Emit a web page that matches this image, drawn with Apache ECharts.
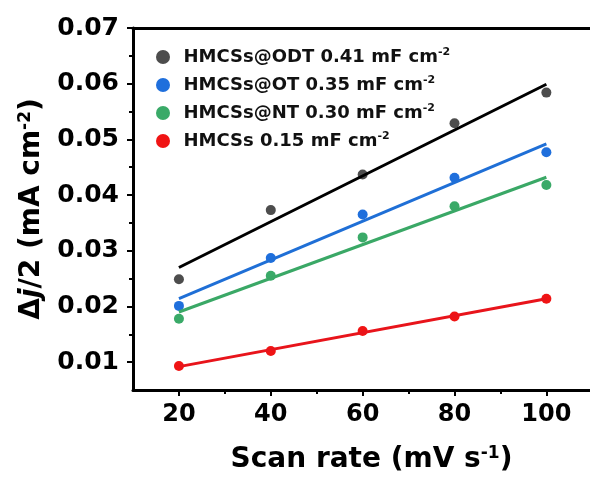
<!DOCTYPE html>
<html>
<head>
<meta charset="utf-8">
<script src="https://cdn.jsdelivr.net/npm/echarts@6/dist/echarts.min.js"></script>
<style>html,body{margin:0;padding:0;background:#fff}#c{width:590px;height:479px}</style>
</head>
<body>
<div id="c"></div>
<script>
// ---- data ----
const scanRates = [20, 40, 60, 80, 100];
const odtVals = [0.0249, 0.0373, 0.0437, 0.0529, 0.0584];
const otVals  = [0.0201, 0.0287, 0.0365, 0.0431, 0.0477];
const ntVals  = [0.0178, 0.0255, 0.0324, 0.0380, 0.0418];
const bareVals = [0.0093, 0.0120, 0.0156, 0.0182, 0.0214];
// fitted lines (end points)
const fitX = [20, 100];
const odtFit = [0.0270, 0.0599];
const otFit  = [0.0214, 0.0492];
const ntFit  = [0.0190, 0.0432];
const bareFit = [0.0092, 0.0214];
// names and legend labels
const seriesNames = ['HMCSs@ODT', 'HMCSs@OT', 'HMCSs@NT', 'HMCSs'];
const legendMain = ['HMCSs@ODT 0.41 mF cm', 'HMCSs@OT 0.35 mF cm', 'HMCSs@NT 0.30 mF cm', 'HMCSs 0.15 mF cm'];
const legendSup = ['-2', '-2', '-2', '-2'];
// ticks
const xTicks = [20, 40, 60, 80, 100];
const xMinor = [30, 50, 70, 90];
const yTicks = [0.01, 0.02, 0.03, 0.04, 0.05, 0.06, 0.07];
const yMinor = [0.015, 0.025, 0.035, 0.045, 0.055, 0.065];

const pointColors = ['#4d4d4d', '#1f6fdc', '#3aaa68', '#f01414'];
const lineColors = ['#000000', '#1f6fd6', '#3aa866', '#e8141b'];
const FONT = 'DejaVu Sans';

const pts = [odtVals, otVals, ntVals, bareVals];
const fits = [odtFit, otFit, ntFit, bareFit];

const series = [];
pts.forEach((vals, i) => {
  series.push({
    type: 'scatter', name: seriesNames[i], xAxisIndex: 0, yAxisIndex: 0,
    data: scanRates.map((x, k) => [x, vals[k]]),
    symbol: 'circle', symbolSize: 10,
    itemStyle: { color: pointColors[i], opacity: 1 }, z: 2
  });
});
fits.forEach((vals, i) => {
  series.push({
    type: 'line', name: 'fit' + i, xAxisIndex: 0, yAxisIndex: 0,
    data: fitX.map((x, k) => [x, vals[k]]),
    showSymbol: false, symbol: 'none',
    lineStyle: { color: lineColors[i], width: 3 }, z: 3
  });
});

const XMIN = 10, XMAX = 109.5;
const chart = echarts.init(document.getElementById('c'), null, { renderer: 'canvas' });
chart.setOption({
  animation: false,
  backgroundColor: '#fff',
  grid: { left: 133, top: 28, right: 0, bottom: 87, show: false },
  legend: {
    data: seriesNames, left: 151, top: 42, orient: 'vertical',
    icon: 'circle', itemWidth: 31, itemHeight: 14, itemGap: 9,
    formatter: function (name) {
      const i = seriesNames.indexOf(name);
      return '{a|' + legendMain[i] + '}{s|' + legendSup[i] + '}';
    },
    textStyle: {
      fontFamily: FONT, fontWeight: 'bold', fontSize: 18, color: '#111',
      rich: {
        a: { fontFamily: FONT, fontWeight: 'bold', fontSize: 18, lineHeight: 20, color: '#111' },
        s: { fontFamily: FONT, fontWeight: 'bold', fontSize: 11, lineHeight: 11, verticalAlign: 'top', color: '#111' }
      }
    }
  },
  xAxis: [{
    type: 'value', min: XMIN, max: XMAX, position: 'bottom',
    axisLine: { show: true, onZero: false, lineStyle: { color: '#000', width: 3 } },
    axisTick: { show: true, inside: false, length: 6, lineStyle: { color: '#000', width: 2 }, customValues: xTicks },
    axisLabel: { customValues: xTicks, margin: 13, color: '#000', fontFamily: FONT, fontWeight: 'bold', fontSize: 24 },
    splitLine: { show: false },
    name: '{a|Scan rate (mV s}{s|-1}{a|)}', nameLocation: 'middle', nameGap: 55,
    nameTextStyle: {
      color: '#000', padding: [0, 0, 0, 20],
      rich: {
        a: { fontFamily: FONT, fontWeight: 'bold', fontSize: 28, lineHeight: 30, color: '#000' },
        s: { fontFamily: FONT, fontWeight: 'bold', fontSize: 17, lineHeight: 17, verticalAlign: 'top', color: '#000' }
      }
    }
  }, {
    type: 'value', min: XMIN, max: XMAX, position: 'bottom',
    axisLine: { show: false },
    axisTick: { show: true, inside: false, length: 4, lineStyle: { color: '#000', width: 2 }, customValues: xMinor },
    axisLabel: { show: false },
    splitLine: { show: false }
  }, {
    type: 'value', min: XMIN, max: XMAX, position: 'top',
    axisLine: { show: true, onZero: false, lineStyle: { color: '#000', width: 3 } },
    axisTick: { show: false },
    axisLabel: { show: false },
    splitLine: { show: false }
  }],
  yAxis: [{
    type: 'value', min: 0.005, max: 0.07, position: 'left',
    axisLine: { show: true, onZero: false, lineStyle: { color: '#000', width: 3 } },
    axisTick: { show: true, inside: false, length: 6, lineStyle: { color: '#000', width: 2 }, customValues: yTicks },
    axisLabel: { customValues: yTicks, margin: 14, color: '#000', fontFamily: FONT, fontWeight: 'bold', fontSize: 25,
      formatter: v => v.toFixed(2) },
    splitLine: { show: false },
    name: '{a|Δ}{i|j}{a|/2 (mA cm}{s|-2}{a|)}', nameLocation: 'middle', nameRotate: 90, nameGap: 86,
    nameTextStyle: {
      color: '#000',
      rich: {
        a: { fontFamily: FONT, fontWeight: 'bold', fontSize: 28, lineHeight: 30, color: '#000' },
        i: { fontFamily: FONT, fontWeight: 'bold', fontStyle: 'italic', fontSize: 28, lineHeight: 30, color: '#000' },
        s: { fontFamily: FONT, fontWeight: 'bold', fontSize: 17, lineHeight: 17, verticalAlign: 'top', color: '#000' }
      }
    }
  }, {
    type: 'value', min: 0.005, max: 0.07, position: 'left',
    axisLine: { show: false },
    axisTick: { show: true, inside: false, length: 4, lineStyle: { color: '#000', width: 2 }, customValues: yMinor },
    axisLabel: { show: false },
    splitLine: { show: false }
  }],
  series: series
});
</script>
</body>
</html>
